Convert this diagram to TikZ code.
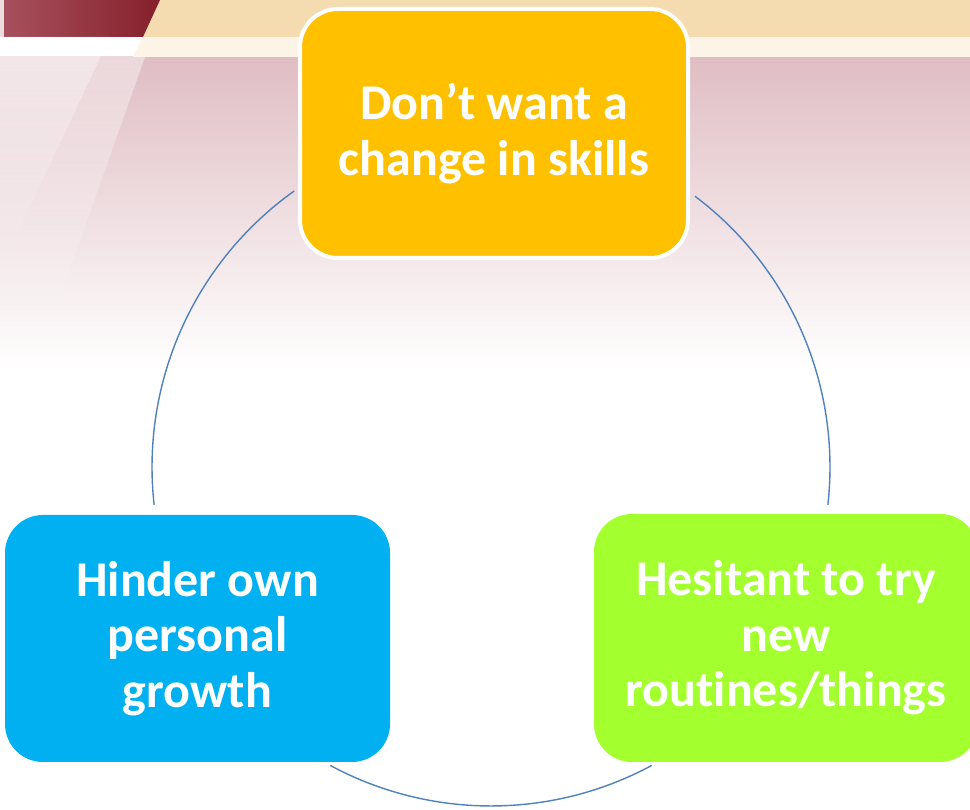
\documentclass[tikz,border=0pt]{standalone}
\usepackage{fontspec}
\setmainfont{Carlito}[Ligatures=NoCommon]
\usetikzlibrary{fadings}
\definecolor{bandtan}{HTML}{F4DCB0}
\definecolor{bandcream}{HTML}{FCF4E6}
\definecolor{wine}{HTML}{85202B}
\definecolor{winelight}{HTML}{A8525F}
\definecolor{blush}{HTML}{DFBDC3}
\definecolor{amber}{HTML}{FFC000}
\definecolor{sky}{HTML}{00B0F0}
\definecolor{lime}{HTML}{A3FF2D}
\definecolor{ring}{HTML}{4F81BD}
\tikzset{
  card/.style={rounded corners=38pt, inner sep=0pt, align=center,
    text=white, font=\fontsize{50}{55.5}\selectfont\bfseries},
  ringline/.style={draw=ring, line width=1.4pt}
}
\begin{document}
\begin{tikzpicture}[x=1pt,y=1pt]
\useasboundingbox (0,0) rectangle (970,810);
% backdrop
\fill[white] (0,0) rectangle (970,810);
\shade[top color=blush, bottom color=white] (0,440) rectangle (970,753);
\fill[bandcream] (133,753) -- (143,773) -- (970,773) -- (970,753) -- cycle;
\fill[bandtan] (143,773) -- (160,810) -- (970,810) -- (970,773) -- cycle;
\shade[left color=winelight, right color=wine] (0,773) -- (143,773) -- (160,810) -- (0,810) -- cycle;
\fill[white, opacity=0.45, path fading=south] (0,773) -- (145,753) -- (45,470) -- (0,460) -- cycle;
\fill[white, opacity=0.4, path fading=south] (0,773) -- (110,773) -- (0,540) -- cycle;
\fill[white, opacity=0.8] (0,810) rectangle (4,773);
% ring centre
\coordinate (c) at (491,343);
\draw[ringline] ([shift={(53:339)}]c) arc[start angle=53, end angle=-6.4, radius=339];
\draw[ringline] ([shift={(-61.7:339)}]c) arc[start angle=-61.7, end angle=-118.3, radius=339];
\draw[ringline] ([shift={(186.4:339)}]c) arc[start angle=186.4, end angle=125.5, radius=339];
% cards
\node[card, fill=amber, draw=white, line width=4pt, minimum width=388pt, minimum height=249pt]
  (skills) at (494,676.5) {Don’t want a\\change in skills};
\node[card, fill=sky, minimum width=385pt, minimum height=247pt]
  (growth) at (197.5,171.5) {Hinder own\\personal\\growth};
\node[card, fill=lime, minimum width=384pt, minimum height=248pt]
  (routines) at (786,172) {Hesitant to try\\new\\routines/things};
\end{tikzpicture}
\end{document}
